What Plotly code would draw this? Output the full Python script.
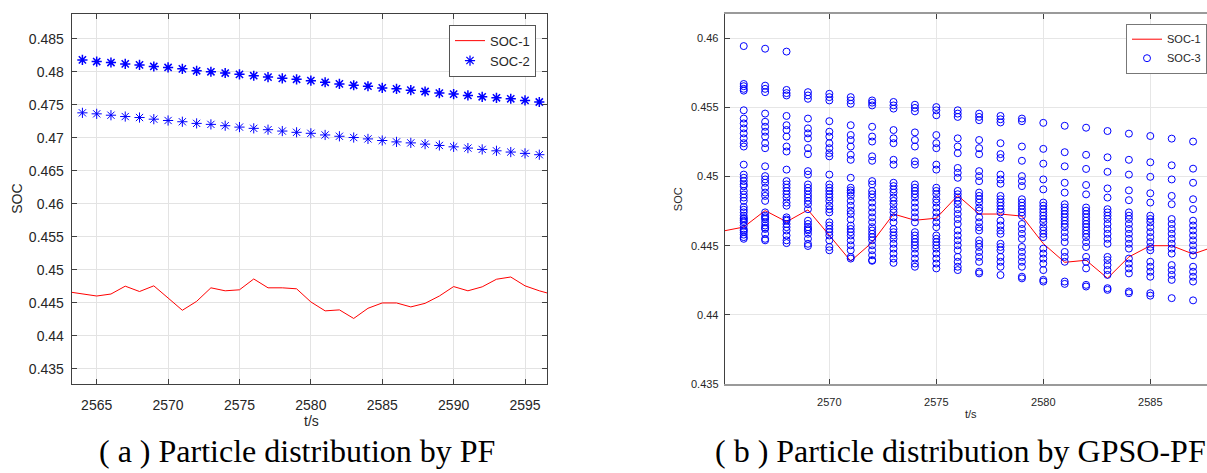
import plotly.graph_objects as go

# ---------------- data ----------------
t_soc1 = [2563, 2564, 2565, 2566, 2567, 2568, 2569, 2570, 2571, 2572, 2573, 2574,
          2575, 2576, 2577, 2578, 2579, 2580, 2581, 2582, 2583, 2584, 2585, 2586,
          2587, 2588, 2589, 2590, 2591, 2592, 2593, 2594, 2595, 2596, 2597]
soc1 = [0.44669, 0.44639, 0.44605, 0.44635, 0.44754, 0.44673, 0.44759, 0.44575,
        0.44389, 0.44524, 0.44729, 0.44684, 0.44699, 0.44863, 0.44729, 0.44729,
        0.44714, 0.44515, 0.44380, 0.44395, 0.44265, 0.44419, 0.44500, 0.44500,
        0.44440, 0.44494, 0.44605, 0.44748, 0.44684, 0.44744, 0.44859, 0.44893,
        0.44759, 0.44684, 0.44624]

t_soc2 = [2564, 2565, 2566, 2567, 2568, 2569, 2570, 2571, 2572, 2573, 2574, 2575,
          2576, 2577, 2578, 2579, 2580, 2581, 2582, 2583, 2584, 2585, 2586, 2587,
          2588, 2589, 2590, 2591, 2592, 2593, 2594, 2595, 2596]
soc2_upper = [0.48180, 0.48156, 0.48141, 0.48120, 0.48105, 0.48081, 0.48066, 0.48045,
              0.48016, 0.48001, 0.47982, 0.47962, 0.47941, 0.47921, 0.47902, 0.47887,
              0.47866, 0.47842, 0.47817, 0.47797, 0.47782, 0.47757, 0.47742, 0.47722,
              0.47702, 0.47678, 0.47663, 0.47642, 0.47622, 0.47607, 0.47592, 0.47567,
              0.47543]
soc2_lower = [0.47379, 0.47364, 0.47343, 0.47323, 0.47308, 0.47283, 0.47263, 0.47244,
              0.47219, 0.47204, 0.47184, 0.47163, 0.47144, 0.47124, 0.47103, 0.47084,
              0.47069, 0.47044, 0.47024, 0.47005, 0.46984, 0.46960, 0.46939, 0.46924,
              0.46905, 0.46885, 0.46864, 0.46845, 0.46825, 0.46804, 0.46785, 0.46765,
              0.46745]

t_soc3 = [2566, 2567, 2568, 2569, 2570, 2571, 2572, 2573, 2574, 2575, 2576,
          2577, 2578, 2579, 2580, 2581, 2582, 2583, 2584, 2585, 2586, 2587]
soc3_particles = [
    [0.45943, 0.45669, 0.45653, 0.45634, 0.45621, 0.45479, 0.45419, 0.45384, 0.45348, 0.45312,
     0.45276, 0.45241, 0.45217, 0.45086, 0.45014, 0.44991, 0.44967, 0.44943, 0.44930, 0.44896,
     0.44870, 0.44848, 0.44824, 0.44780, 0.44760, 0.44741, 0.44717, 0.44700, 0.44693, 0.44680,
     0.44669, 0.44646, 0.44621, 0.44610, 0.44598, 0.44580, 0.44562, 0.44550],
    [0.45924, 0.45657, 0.45634, 0.45610, 0.45455, 0.45396, 0.45360, 0.45324, 0.45289, 0.45241,
     0.45205, 0.45074, 0.45003, 0.44979, 0.44955, 0.44919, 0.44884, 0.44860, 0.44824, 0.44741,
     0.44717, 0.44705, 0.44693, 0.44669, 0.44646, 0.44630, 0.44621, 0.44586, 0.44550, 0.44539],
    [0.45903, 0.45626, 0.45603, 0.45586, 0.45438, 0.45371, 0.45336, 0.45289, 0.45217, 0.45181,
     0.45050, 0.44967, 0.44943, 0.44919, 0.44895, 0.44872, 0.44848, 0.44812, 0.44789, 0.44705,
     0.44690, 0.44681, 0.44657, 0.44634, 0.44610, 0.44574, 0.44539, 0.44519],
    [0.45610, 0.45586, 0.45562, 0.45419, 0.45348, 0.45312, 0.45276, 0.45205, 0.45162, 0.45039,
     0.45014, 0.44943, 0.44919, 0.44896, 0.44870, 0.44848, 0.44824, 0.44800, 0.44764, 0.44681,
     0.44657, 0.44634, 0.44620, 0.44610, 0.44586, 0.44550, 0.44514, 0.44498],
    [0.45598, 0.45574, 0.45550, 0.45400, 0.45324, 0.45289, 0.45241, 0.45205, 0.45169, 0.45146,
     0.45014, 0.44943, 0.44919, 0.44896, 0.44872, 0.44850, 0.44824, 0.44789, 0.44764, 0.44741,
     0.44669, 0.44646, 0.44621, 0.44598, 0.44574, 0.44539, 0.44491, 0.44467],
    [0.45574, 0.45550, 0.45526, 0.45371, 0.45300, 0.45264, 0.45217, 0.45157, 0.45121, 0.44991,
     0.44919, 0.44900, 0.44884, 0.44860, 0.44824, 0.44789, 0.44753, 0.44729, 0.44690, 0.44646,
     0.44621, 0.44598, 0.44574, 0.44539, 0.44503, 0.44467, 0.44419, 0.44407],
    [0.45550, 0.45534, 0.45514, 0.45360, 0.45289, 0.45253, 0.45146, 0.45114, 0.44967, 0.44943,
     0.44896, 0.44872, 0.44848, 0.44812, 0.44776, 0.44741, 0.44705, 0.44670, 0.44634, 0.44610,
     0.44586, 0.44562, 0.44539, 0.44503, 0.44467, 0.44431, 0.44396, 0.44391],
    [0.45539, 0.45514, 0.45491, 0.45336, 0.45276, 0.45241, 0.45121, 0.45086, 0.44955, 0.44931,
     0.44907, 0.44884, 0.44848, 0.44824, 0.44800, 0.44764, 0.44741, 0.44705, 0.44669, 0.44621,
     0.44598, 0.44574, 0.44550, 0.44514, 0.44479, 0.44443, 0.44407, 0.44376],
    [0.45519, 0.45496, 0.45471, 0.45319, 0.45264, 0.45217, 0.45110, 0.45086, 0.44943, 0.44919,
     0.44896, 0.44872, 0.44848, 0.44812, 0.44776, 0.44741, 0.44705, 0.44669, 0.44598, 0.44574,
     0.44550, 0.44526, 0.44503, 0.44479, 0.44443, 0.44407, 0.44371, 0.44348],
    [0.45502, 0.45479, 0.45443, 0.45300, 0.45241, 0.45205, 0.45086, 0.45050, 0.44919, 0.44896,
     0.44872, 0.44836, 0.44812, 0.44776, 0.44741, 0.44705, 0.44669, 0.44634, 0.44574, 0.44550,
     0.44526, 0.44503, 0.44479, 0.44443, 0.44407, 0.44371, 0.44336],
    [0.45479, 0.45455, 0.45431, 0.45276, 0.45217, 0.45169, 0.45062, 0.45027, 0.44991, 0.44896,
     0.44872, 0.44848, 0.44824, 0.44800, 0.44764, 0.44729, 0.44693, 0.44657, 0.44610, 0.44574,
     0.44539, 0.44503, 0.44467, 0.44419, 0.44384, 0.44348, 0.44324],
    [0.45455, 0.45431, 0.45407, 0.45264, 0.45205, 0.45162, 0.45039, 0.45003, 0.44967, 0.44884,
     0.44860, 0.44836, 0.44812, 0.44776, 0.44753, 0.44705, 0.44669, 0.44634, 0.44610, 0.44539,
     0.44514, 0.44491, 0.44455, 0.44419, 0.44384, 0.44312, 0.44300],
    [0.45438, 0.45414, 0.45391, 0.45241, 0.45162, 0.45134, 0.45014, 0.44979, 0.44948, 0.44860,
     0.44836, 0.44812, 0.44789, 0.44764, 0.44741, 0.44681, 0.44646, 0.44610, 0.44586, 0.44514,
     0.44491, 0.44467, 0.44419, 0.44384, 0.44348, 0.44288],
    [0.45419, 0.45400, 0.45217, 0.45114, 0.45003, 0.44967, 0.44931, 0.44836, 0.44812, 0.44789,
     0.44764, 0.44741, 0.44717, 0.44657, 0.44621, 0.44586, 0.44550, 0.44491, 0.44455, 0.44419,
     0.44384, 0.44348, 0.44276, 0.44264],
    [0.45388, 0.45200, 0.45093, 0.44979, 0.44907, 0.44812, 0.44789, 0.44764, 0.44741, 0.44717,
     0.44693, 0.44669, 0.44634, 0.44610, 0.44586, 0.44562, 0.44479, 0.44443, 0.44407, 0.44371,
     0.44324, 0.44253, 0.44241],
    [0.45367, 0.45176, 0.45074, 0.44955, 0.44884, 0.44800, 0.44776, 0.44753, 0.44729, 0.44705,
     0.44681, 0.44657, 0.44634, 0.44598, 0.44562, 0.44526, 0.44455, 0.44419, 0.44384, 0.44241,
     0.44224],
    [0.45353, 0.45157, 0.45055, 0.44939, 0.44871, 0.44776, 0.44753, 0.44729, 0.44705, 0.44681,
     0.44657, 0.44634, 0.44610, 0.44586, 0.44562, 0.44526, 0.44491, 0.44419, 0.44384, 0.44336,
     0.44217, 0.44205],
    [0.45329, 0.45139, 0.45034, 0.44914, 0.44848, 0.44764, 0.44741, 0.44717, 0.44693, 0.44657,
     0.44621, 0.44586, 0.44550, 0.44514, 0.44419, 0.44396, 0.44360, 0.44324, 0.44289, 0.44193,
     0.44181],
    [0.45310, 0.45121, 0.45014, 0.44900, 0.44829, 0.44741, 0.44717, 0.44693, 0.44657, 0.44621,
     0.44586, 0.44550, 0.44514, 0.44479, 0.44407, 0.44371, 0.44336, 0.44300, 0.44169, 0.44157],
    [0.45293, 0.45103, 0.44998, 0.44879, 0.44812, 0.44717, 0.44693, 0.44669, 0.44634, 0.44598,
     0.44562, 0.44526, 0.44491, 0.44467, 0.44384, 0.44348, 0.44312, 0.44276, 0.44157, 0.44139],
    [0.45274, 0.45081, 0.44979, 0.44860, 0.44800, 0.44693, 0.44657, 0.44621, 0.44586, 0.44550,
     0.44514, 0.44479, 0.44443, 0.44360, 0.44324, 0.44289, 0.44253, 0.44121],
    [0.45253, 0.45057, 0.44955, 0.44836, 0.44764, 0.44681, 0.44646, 0.44610, 0.44574, 0.44539,
     0.44503, 0.44467, 0.44431, 0.44348, 0.44312, 0.44276, 0.44241, 0.44105],
]

left_yticks = [0.435, 0.44, 0.445, 0.45, 0.455, 0.46, 0.465, 0.47, 0.475, 0.48, 0.485]
left_yticktext = ["0.435", "0.44", "0.445", "0.45", "0.455", "0.46", "0.465", "0.47",
                  "0.475", "0.48", "0.485"]
left_xticks = [2565, 2570, 2575, 2580, 2585, 2590, 2595]
right_yticks = [0.435, 0.44, 0.445, 0.45, 0.455, 0.46]
right_yticktext = ["0.435", "0.44", "0.445", "0.45", "0.455", "0.46"]
right_xticks = [2570, 2575, 2580, 2585]

captions = ["( a ) Particle distribution by PF", "( b ) Particle distribution by GPSO-PF"]

# ---------------- figure ----------------
W, H = 1207, 473
def px_x(p):
    return p / W
def px_y(p):
    return (H - p) / H

BLUE = "rgb(0,0,255)"
RED = "rgb(255,0,0)"
TXT = "#262626"
SANS = "Liberation Sans, Arial"

fig = go.Figure()

# left panel
fig.add_trace(go.Scatter(x=t_soc1, y=soc1, mode="lines", name="SOC-1",
                         line=dict(color=RED, width=1), xaxis="x", yaxis="y",
                         legend="legend"))
soc2_x = t_soc2 + t_soc2
soc2_y = soc2_upper + soc2_lower
soc2_w = [1.5] * len(t_soc2) + [1.0] * len(t_soc2)
fig.add_trace(go.Scatter(x=soc2_x, y=soc2_y, mode="markers", name="SOC-2",
                         marker=dict(symbol="asterisk-open", size=8.5, color=BLUE,
                                     line=dict(color=BLUE, width=soc2_w)),
                         xaxis="x", yaxis="y", legend="legend"))

# right panel
fig.add_trace(go.Scatter(x=t_soc1, y=soc1, mode="lines", name="SOC-1",
                         line=dict(color=RED, width=1), xaxis="x2", yaxis="y2",
                         legend="legend2"))
soc3_x, soc3_y = [], []
for t, vals in zip(t_soc3, soc3_particles):
    soc3_x += [t] * len(vals)
    soc3_y += vals
fig.add_trace(go.Scatter(x=soc3_x, y=soc3_y, mode="markers", name="SOC-3",
                         marker=dict(symbol="circle-open", size=7, color=BLUE,
                                     line=dict(color=BLUE, width=1)),
                         xaxis="x2", yaxis="y2", legend="legend2"))

def axis(size, **kw):
    d = dict(showgrid=True, zeroline=False, ticks="inside", ticklen=5,
             tickcolor="#404040", tickfont=dict(family=SANS, color=TXT, size=size))
    d.update(kw)
    return d

fig.update_layout(
    width=W, height=H,
    margin=dict(l=0, r=0, t=0, b=0),
    paper_bgcolor="white", plot_bgcolor="white",
    showlegend=True,
    xaxis=axis(14, domain=[px_x(71.7), px_x(547.3)], range=[2563.25, 2596.56],
               tickvals=left_xticks, anchor="y", mirror="ticks",
               showline=True, linecolor="#404040", linewidth=1,
               gridcolor="#e3e3e3", ticklabelstandoff=8),
    yaxis=axis(14, domain=[px_y(389.3), px_y(14.3)], range=[0.43267, 0.48874],
               tickvals=left_yticks, ticktext=left_yticktext, anchor="x",
               mirror="ticks", showline=True, linecolor="#404040", linewidth=1,
               gridcolor="#e3e3e3", ticklabelstandoff=4),
    xaxis2=axis(11, domain=[px_x(724.7), 1.0], range=[2565.11, 2587.65],
                tickvals=right_xticks, anchor="y2", mirror="ticks",
                showline=True, linecolor="#9a9a9a", linewidth=2,
                gridcolor="#e6e6e6", ticklabelstandoff=7),
    yaxis2=axis(11, domain=[px_y(389.0), px_y(14.3)], range=[0.435, 0.46174],
                tickvals=right_yticks, ticktext=right_yticktext, anchor="x2",
                mirror=False, showline=True, linecolor="#404040", linewidth=1,
                gridcolor="#e6e6e6", ticklabelstandoff=3),
    legend=dict(x=px_x(536), y=px_y(25), xanchor="right", yanchor="top",
                bgcolor="white", bordercolor="#555555", borderwidth=1,
                font=dict(family=SANS, size=13, color=TXT),
                tracegroupgap=0, itemwidth=30),
    legend2=dict(x=1.0, y=px_y(24), xanchor="right", yanchor="top",
                 bgcolor="white", bordercolor="#777777", borderwidth=1,
                 font=dict(family=SANS, size=11, color=TXT),
                 tracegroupgap=0, itemwidth=30),
)

ann = []
# axis titles
ann.append(dict(text="SOC", x=px_x(16.7), y=px_y(201.7), xref="paper", yref="paper",
                showarrow=False, textangle=-90, xanchor="center", yanchor="middle",
                font=dict(family=SANS, size=14, color=TXT)))
ann.append(dict(text="t/s", x=px_x(311), y=px_y(426.5), xref="paper", yref="paper",
                showarrow=False, xanchor="center", yanchor="middle",
                font=dict(family=SANS, size=14, color=TXT)))
ann.append(dict(text="SOC", x=px_x(678), y=px_y(201.7), xref="paper", yref="paper",
                showarrow=False, textangle=-90, xanchor="center", yanchor="middle",
                font=dict(family=SANS, size=11, color=TXT)))
ann.append(dict(text="t/s", x=px_x(971), y=px_y(419.3), xref="paper", yref="paper",
                showarrow=False, xanchor="center", yanchor="middle",
                font=dict(family=SANS, size=11, color=TXT)))
# captions
ann.append(dict(text=captions[0], x=px_x(296.5), y=px_y(457), xref="paper", yref="paper",
                showarrow=False, xanchor="center", yanchor="middle",
                font=dict(family="Liberation Serif, Times New Roman", size=32, color="black")))
ann.append(dict(text=captions[1], x=px_x(960.5), y=px_y(457), xref="paper", yref="paper",
                showarrow=False, xanchor="center", yanchor="middle",
                font=dict(family="Liberation Serif, Times New Roman", size=32, color="black")))
fig.update_layout(annotations=ann)

fig.write_html("out.html")
